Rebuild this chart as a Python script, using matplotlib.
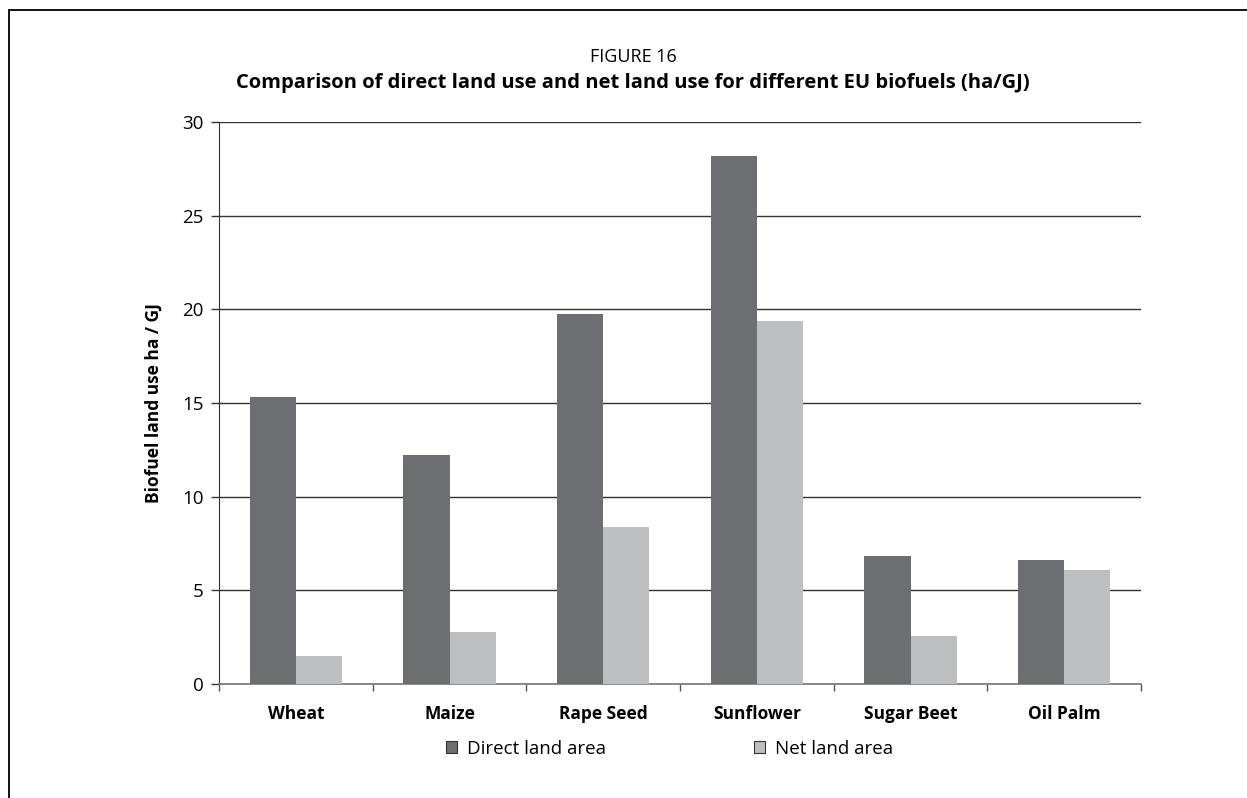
import matplotlib
matplotlib.use("Agg")
import matplotlib.pyplot as plt
import matplotlib.patches as mpatches
import numpy as np

categories = ["Wheat", "Maize", "Rape Seed", "Sunflower", "Sugar Beet", "Oil Palm"]
direct_land = [15.3, 12.2, 19.75, 28.2, 6.85, 6.62]
net_land = [1.5, 2.78, 8.4, 19.38, 2.56, 6.09]
yticks = [0, 5, 10, 15, 20, 25, 30]

plt.rcParams['font.family'] = ['Open Sans', 'DejaVu Sans']

W, H = 1247, 798
fig = plt.figure(figsize=(W / 100, H / 100), dpi=100)
ax = fig.add_axes([219 / W, 1 - 684 / H, (1141 - 219) / W, (684 - 122) / H])

x = np.arange(len(categories))
bw = 0.3
c_direct = '#6d6e72'
c_net = '#bdbec0'
ax.bar(x - bw / 2, direct_land, width=bw, color=c_direct, zorder=3)
ax.bar(x + bw / 2, net_land, width=bw, color=c_net, zorder=3)

ax.set_xlim(-0.5, len(categories) - 0.5)
ax.set_ylim(0, 30)
ax.set_yticks(yticks)
ax.set_yticklabels([str(t) for t in yticks], fontsize=13.5)
ax.yaxis.grid(True, color='#333333', linewidth=1.0, zorder=0)
ax.set_axisbelow(True)

ax.set_xticks(x)
ax.set_xticklabels(categories, fontsize=12.5, fontweight='bold')
ax.tick_params(axis='x', length=0, pad=15)
ax.set_xticks(np.arange(len(categories) + 1) - 0.5, minor=True)
ax.tick_params(axis='x', which='minor', length=5, width=1, color='#555555', direction='out')
ax.tick_params(axis='y', length=6, width=1, color='#333333', pad=5)

for s in ['top', 'right']:
    ax.spines[s].set_visible(False)
ax.spines['left'].set_color('#333333')
ax.spines['bottom'].set_color('#777777')
ax.spines['bottom'].set_linewidth(1.2)

ax.set_ylabel('Biofuel land use ha / GJ', fontsize=12.5, fontweight='bold', labelpad=14)

fig.text(633 / W, 1 - 57 / H, 'FIGURE 16', ha='center', va='center', fontsize=13)
fig.text(633 / W, 1 - 83 / H,
         'Comparison of direct land use and net land use for different EU biofuels (ha/GJ)',
         ha='center', va='center', fontsize=14.5, fontweight='bold')

h1 = mpatches.Patch(facecolor=c_direct, edgecolor='#333333', linewidth=0.8)
h2 = mpatches.Patch(facecolor=c_net, edgecolor='#333333', linewidth=0.8)
leg_kw = dict(loc='center left', frameon=False, fontsize=13.5, handlelength=0.6,
              handleheight=0.6, handletextpad=0.5, borderpad=0, borderaxespad=0)
leg1 = fig.legend([h1], ['Direct land area'], bbox_to_anchor=(446 / W, 1 - 749 / H), **leg_kw)
leg2 = fig.legend([h2], ['Net land area'], bbox_to_anchor=(754 / W, 1 - 749 / H), **leg_kw)

frame = mpatches.Rectangle((9 / W, -0.1), 1.2, 1 - 10 / H + 0.1, transform=fig.transFigure,
                           fill=False, edgecolor='black', linewidth=1.3)
fig.patches.append(frame)

fig.savefig('out.png', dpi=100)
